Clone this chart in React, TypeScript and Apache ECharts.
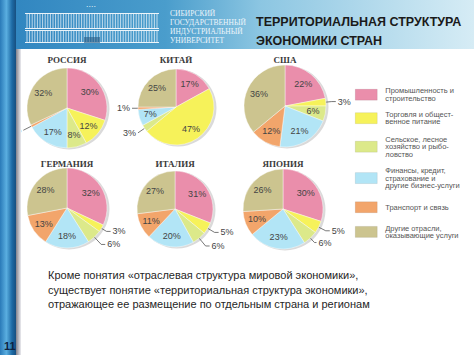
import React, { useEffect, useRef } from "react";
import * as echarts from "echarts";

// ---- data ----
const sectors = [
  "Промышленность и строительство",
  "Торговля и общественное питание",
  "Сельское, лесное хозяйство и рыболовство",
  "Финансы, кредит, страхование и другие бизнес-услуги",
  "Транспорт и связь",
  "Другие отрасли, оказывающие услуги",
];
const legendLabels = [
  "Промышленность и\nстроительство",
  "Торговля и общест-\nвенное питание",
  "Сельское, лесное\nхозяйство и рыбо-\nловство",
  "Финансы, кредит,\nстрахование и\nдругие бизнес-услуги",
  "Транспорт и связь",
  "Другие отрасли,\nоказывающие услуги",
];
const countries = ["РОССИЯ", "КИТАЙ", "США", "ГЕРМАНИЯ", "ИТАЛИЯ", "ЯПОНИЯ"];
const russia = [30, 12, 8, 17, 1, 32];
const china = [17, 47, 3, 7, 1, 25];
const usa = [22, 3, 6, 21, 12, 36];
const germany = [32, 3, 6, 18, 13, 28];
const italy = [31, 5, 6, 20, 11, 27];
const japan = [30, 5, 6, 23, 10, 26];
const countryValues = [russia, china, usa, germany, italy, japan];

// ---- layout / style ----
const colors = ["#ea8eab", "#f6f25a", "#dce98a", "#b2e5f6", "#f2a56b", "#ccc48f"];
const pieLayout = [
  { c: [67, 108], r: 40, ty: 60 },
  { c: [176, 107], r: 38, ty: 60 },
  { c: [285, 106], r: 41, ty: 60 },
  { c: [67, 208], r: 40, ty: 164 },
  { c: [175, 209], r: 38, ty: 164 },
  { c: [283, 209], r: 40, ty: 164 },
];
// outside labels: sector index -> [length, length2]
const outsideLabels: Record<number, [number, number]>[] = [
  { 4: [9, 0] },
  { 2: [8, 0], 4: [2, 4] },
  { 1: [6, 4] },
  { 1: [6, 4], 2: [10, 4] },
  { 1: [8, 4], 2: [10, 4] },
  { 1: [8, 4], 2: [6, 2] },
];
const legendTops = [86.9, 110.4, 135.1, 166.5, 201.5, 224.1];
const paragraph =
  "Кроме понятия «отраслевая структура мировой экономики»,\nсуществует понятие «территориальная структура экономики»,\nотражающее ее размещение по отдельным страна и регионам";

function txt(x: number, y: number, text: string, font: string, fill: string, align = "left", valign = "middle", extra: any = {}) {
  return {
    type: "text",
    x,
    y,
    ...extra,
    style: { text, font, fill, align, verticalAlign: valign, textAlign: align, textVerticalAlign: valign, ...(extra.style || {}) },
  };
}

export default function App() {
  const ref = useRef<HTMLDivElement>(null);
  useEffect(() => {
    if (!ref.current) return;
    const chart = echarts.init(ref.current, null, { renderer: "svg" });

    const series: any[] = [];
    countryValues.forEach((vals, i) => {
      const { c, r } = pieLayout[i];
      const outs = outsideLabels[i];
      series.push({
        type: "pie",
        silent: true,
        center: [c[0] + 2, c[1] + 1],
        radius: r + 0.5,
        z: 1,
        label: { show: false },
        labelLine: { show: false },
        data: [{ name: "shadow" + i, value: 1, itemStyle: { color: "#dadada" } }],
      });
      series.push({
        type: "pie",
        center: c,
        radius: r,
        startAngle: 90,
        clockwise: true,
        avoidLabelOverlap: false,
        silent: true,
        z: 2,
        itemStyle: { borderColor: "rgba(255,255,255,0.7)", borderWidth: 0.6 },
        label: {
          formatter: "{c}%",
          fontSize: 9,
          fontFamily: "Liberation Sans",
          color: "#444",
          distanceToLabelLine: 2,
        },
        labelLine: { lineStyle: { color: "#555", width: 0.8 } },
        data: sectors.map((name, k) => {
          const o = outs[k];
          return {
            name,
            value: vals[k],
            label: { show: !!o, position: "outside" },
            labelLine: o ? { show: true, length: o[0], length2: o[1] } : { show: false },
          };
        }),
      });
      series.push({
        type: "pie",
        center: c,
        radius: [r * 0.25, r],
        startAngle: 90,
        silent: true,
        z: 3,
        itemStyle: { color: "transparent" },
        label: {
          position: "inside",
          formatter: "{c}%",
          fontSize: 9,
          fontFamily: "Liberation Sans",
          color: "#444",
        },
        labelLine: { show: false },
        data: sectors.map((name, k) => ({
          name: "lbl" + i + "_" + k,
          value: vals[k],
          label: { show: !outs[k] },
        })),
      });
    });

    const legends = sectors.map((name, k) => ({
      data: [name],
      orient: "vertical",
      left: 355,
      top: legendTops[k],
      padding: 0,
      itemWidth: 22,
      itemHeight: 11,
      icon: "rect",
      selectedMode: false,
      itemStyle: { borderColor: "rgba(0,0,0,0.15)", borderWidth: 0.5 },
      formatter: () => legendLabels[k],
      textStyle: {
        fontSize: 7.5,
        lineHeight: 7.6,
        color: "#555",
        fontFamily: "Liberation Sans",
        padding: [0, 0, 0, 3],
      },
    }));

    const headerGrad = new echarts.graphic.LinearGradient(0, 0, 1, 0, [
      { offset: 0, color: "#2f84bf" },
      { offset: 0.35, color: "#4a9dcc" },
      { offset: 0.55, color: "#8cc6e2" },
      { offset: 1, color: "#d6ecf5" },
    ]);
    const barGrad = new echarts.graphic.LinearGradient(0, 0, 1, 0, [
      { offset: 0, color: "#2a7ab8" },
      { offset: 0.4, color: "#5aaee0" },
      { offset: 0.75, color: "#1d6aa5" },
      { offset: 1, color: "#174f80" },
    ]);
    const grayGrad = new echarts.graphic.LinearGradient(0, 0, 1, 0, [
      { offset: 0, color: "#6c6c78" },
      { offset: 1, color: "#ececf0" },
    ]);

    const logo: any[] = [];
    const lineStyle = { stroke: "rgba(255,255,255,0.85)", lineWidth: 0.8 };
    for (let x = 27; x <= 157; x += 2.6) {
      logo.push({ type: "line", shape: { x1: x, y1: 14, x2: x, y2: 28 }, style: lineStyle });
      logo.push({ type: "line", shape: { x1: x, y1: 31, x2: x, y2: 42 }, style: lineStyle });
    }
    [13.5, 28.5, 30.5, 42.5].forEach((y) =>
      logo.push({ type: "line", shape: { x1: 25, y1: y, x2: 159, y2: y }, style: { stroke: "rgba(255,255,255,0.9)", lineWidth: 1 } })
    );
    logo.push({ type: "rect", shape: { x: 84, y: 37, width: 16, height: 6 }, style: { fill: "rgba(40,90,130,0.6)" } });
    logo.push(txt(91, 6, "• • • •", "4px sans-serif", "rgba(255,255,255,0.9)", "center"));

    const graphic: any[] = [
      { type: "rect", shape: { x: 0, y: 0, width: 474, height: 49 }, style: { fill: headerGrad }, z: 0 },
      ...logo,
      txt(170, 9, "СИБИРСКИЙ\nГОСУДАРСТВЕННЫЙ\nИНДУСТРИАЛЬНЫЙ\nУНИВЕРСИТЕТ", '7.5px "Liberation Serif"', "#eef6fb", "left", "top", {
        style: { lineHeight: 9 },
      }),
      txt(256, 12, "ТЕРРИТОРИАЛЬНАЯ СТРУКТУРА\nЭКОНОМИКИ СТРАН", 'bold 12.5px "Liberation Sans"', "#1a1a1a", "left", "top", {
        style: { lineHeight: 19 },
      }),
      ...countries.map((t, i) => txt(pieLayout[i].c[0], pieLayout[i].ty, t, 'bold 9px "Liberation Serif"', "#3a3a3a", "center")),
      txt(48, 268, paragraph, '11px "Liberation Sans"', "#262626", "left", "top", { style: { lineHeight: 14.5 } }),
      { type: "rect", shape: { x: 15, y: 49, width: 6, height: 306 }, style: { fill: grayGrad }, z: 100 },
      { type: "rect", shape: { x: 0, y: 0, width: 16, height: 355 }, style: { fill: barGrad }, z: 100 },
      txt(4, 346, "11", 'bold 11px "Liberation Sans"', "#0d2240", "left", "middle", { z: 101 }),
    ];

    chart.setOption({
      animation: false,
      backgroundColor: "#ffffff",
      color: colors,
      legend: legends,
      series,
      graphic,
    });
    return () => chart.dispose();
  }, []);
  return <div ref={ref} style={{ position: "fixed", left: 0, top: 0, width: 474, height: 355 }} />;
}
